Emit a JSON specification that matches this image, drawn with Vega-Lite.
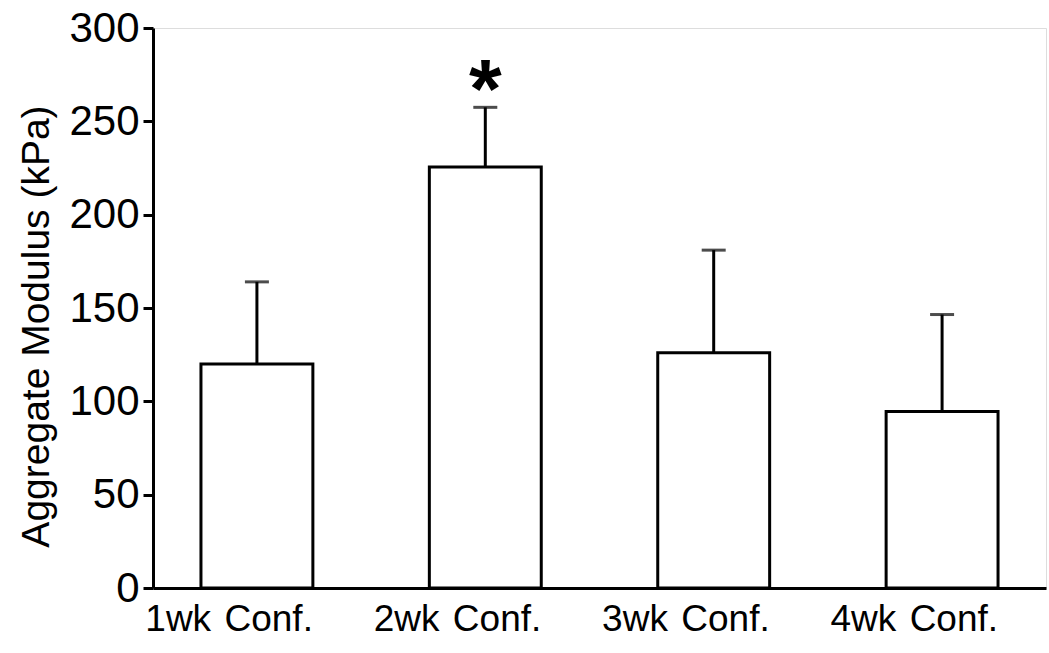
{
  "$schema": "https://vega.github.io/schema/vega-lite/v6.json",
  "autosize": "none",
  "width": 893,
  "height": 560,
  "padding": {"left": 153, "top": 28, "right": 3, "bottom": 65},
  "background": "white",
  "data": {"values": [
    {"group": "1wk\u00a0\u200aConf.", "mean": 120, "upper": 164, "star": ""},
    {"group": "2wk\u00a0\u200aConf.", "mean": 225.5, "upper": 257.5, "star": "*"},
    {"group": "3wk\u00a0\u200aConf.", "mean": 126, "upper": 181, "star": ""},
    {"group": "4wk\u00a0\u200aConf.", "mean": 94.5, "upper": 146.5, "star": ""}
  ]},
  "encoding": {
    "x": {
      "field": "group", "type": "nominal", "sort": null,
      "scale": {"paddingInner": 0.51, "paddingOuter": 0.21},
      "axis": {
        "title": null, "labelAngle": 0, "ticks": false,
        "labelFont": "Liberation Sans", "labelFontSize": 37, "labelColor": "black",
        "labelAlign": "right", "labelOffset": 56, "labelPadding": 13,
        "domainColor": "black", "domainWidth": 3
      }
    }
  },
  "layer": [
    {
      "mark": {"type": "rule", "color": "black", "strokeWidth": 3},
      "encoding": {
        "y": {"field": "mean", "type": "quantitative"},
        "y2": {"field": "upper"}
      }
    },
    {
      "mark": {"type": "tick", "color": "black", "thickness": 3, "size": 24},
      "encoding": {
        "y": {"field": "upper", "type": "quantitative"}
      }
    },
    {
      "mark": {"type": "bar", "fill": "white", "stroke": "black", "strokeWidth": 3},
      "encoding": {
        "y": {
          "field": "mean", "type": "quantitative",
          "scale": {"domain": [0, 300], "nice": false},
          "axis": {
            "title": "Aggregate Modulus (kPa)",
            "values": [0, 50, 100, 150, 200, 250, 300],
            "grid": false,
            "labelFont": "Liberation Sans", "labelFontSize": 42, "labelColor": "black",
            "labelPadding": 4,
            "tickSize": 10, "tickWidth": 3, "tickColor": "black",
            "domainColor": "black", "domainWidth": 3,
            "titleFont": "Liberation Sans", "titleFontSize": 39, "titleFontWeight": "normal",
            "titleColor": "black", "titlePadding": 12, "titleY": 298
          }
        }
      }
    },
    {
      "mark": {"type": "text", "fontSize": 84, "fontWeight": "bold", "font": "Liberation Sans", "baseline": "middle", "dy": 18, "color": "black"},
      "encoding": {
        "y": {"datum": 275, "type": "quantitative"},
        "text": {"field": "star"}
      }
    }
  ]
}
